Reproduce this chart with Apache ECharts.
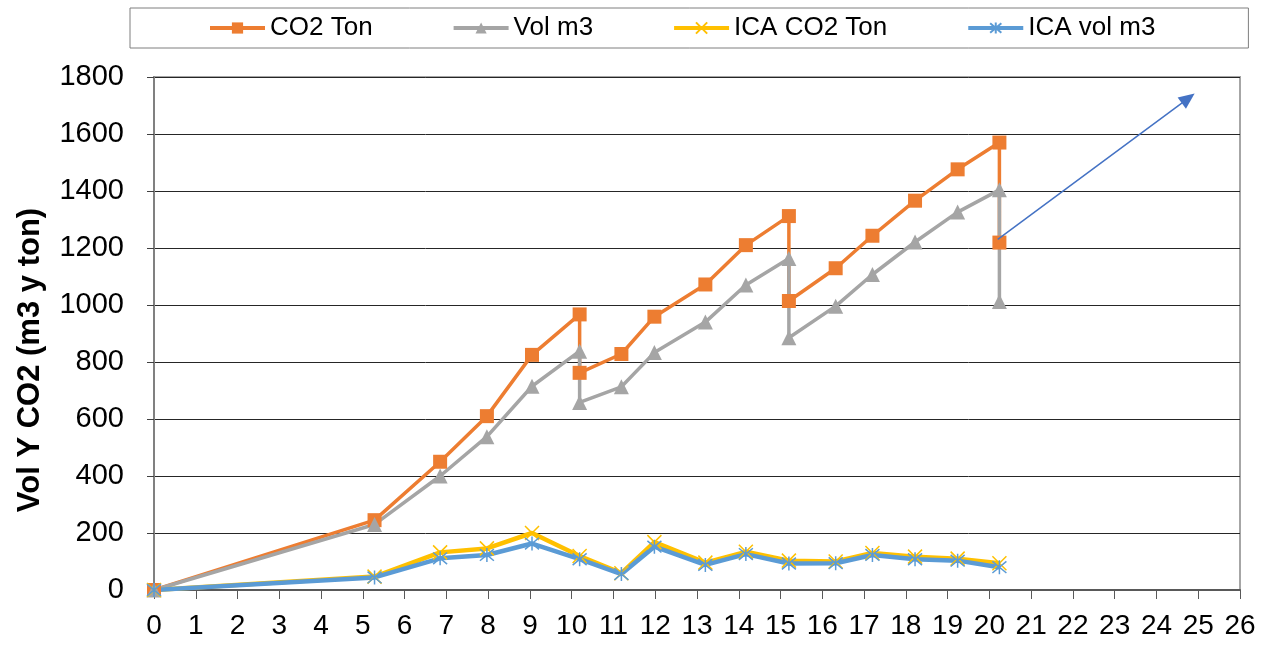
<!DOCTYPE html>
<html>
<head>
<meta charset="utf-8">
<title>Vol Y CO2</title>
<script src="https://cdn.jsdelivr.net/npm/echarts@6/dist/echarts.min.js"></script>
<style>
  html, body { margin: 0; padding: 0; background: #fff; }
  #chart { width: 1268px; height: 646px; }
</style>
</head>
<body>
<div id="chart"></div>
<script>
// x positions (days) for the cumulative series; repeated x = vertical drop
const days = [0, 5.28, 6.85, 7.97, 9.05, 10.19, 10.19, 11.19, 11.98, 13.2, 14.17, 15.2, 15.2, 16.32, 17.2, 18.22, 19.24, 20.24, 20.24];
const co2Ton = [0, 245, 450, 610, 825, 967, 762, 828, 959, 1072, 1210, 1312, 1014, 1129, 1243, 1366, 1476, 1570, 1219];
const volM3 = [0, 230, 400, 538, 715, 838, 658, 713, 833, 940, 1070, 1163, 885, 996, 1107, 1221, 1326, 1404, 1012];

// ICA series, one value per day
const icaDays = [0, 5.28, 6.85, 7.97, 9.05, 10.19, 11.19, 11.98, 13.2, 14.17, 15.2, 16.32, 17.2, 18.22, 19.24, 20.24];
const icaCo2Ton = [0, 47, 132, 146, 200, 119, 59, 168, 96, 134, 103, 100, 130, 117, 110, 94];
const icaVolM3 = [0, 44, 111, 123, 163, 108, 56, 152, 88, 126, 93, 94, 123, 108, 103, 80];

// trend arrow (data coordinates)
const arrowStart = [20.2, 1230];
const arrowEnd = [24.76, 1725];

const seriesNames = ["CO2 Ton", "Vol m3", "ICA CO2 Ton", "ICA vol m3"];
const yName = "Vol Y CO2 (m3 y ton)";

const font = "'Liberation Sans', Arial, sans-serif";
const pair = (xs, ys) => xs.map((x, i) => [x, ys[i]]);

const crossPath = "path://M0,0L10,10M10,0L0,10";
const starPath = "path://M0,0L10,10M10,0L0,10M5,-1L5,11";

const chart = echarts.init(document.getElementById("chart"));

const option = {
  animation: false,
  textStyle: { fontFamily: font },
  legend: {
    data: seriesNames,
    left: 130,
    top: 8,
    padding: [7, 93, 7, 78],
    borderColor: "#7f7f7f",
    borderWidth: 1,
    itemWidth: 55,
    itemHeight: 14,
    itemGap: 79,
    lineStyle: { width: 4 },
    textStyle: { fontSize: 26, color: "#000", fontFamily: font },
  },
  grid: {
    left: 154,
    right: 28,
    top: 77,
    bottom: 56,
    show: true,
    borderColor: "#a6a6a6",
    borderWidth: 2,
  },
  graphic: [
    {
      type: "text",
      x: 30,
      y: 360,
      rotation: Math.PI / 2,
      style: {
        text: yName,
        align: "center",
        verticalAlign: "middle",
        font: "bold 31px " + font,
        fill: "#000",
      },
    },
  ],
  xAxis: {
    type: "value",
    min: 0,
    max: 26,
    interval: 1,
    axisLine: { show: true, lineStyle: { color: "#595959", width: 2 } },
    axisTick: { show: true, length: 9, lineStyle: { color: "#595959", width: 1 } },
    axisLabel: { fontSize: 28, color: "#000", margin: 22, fontFamily: font },
    splitLine: { show: false },
  },
  yAxis: {
    type: "value",
    min: 0,
    max: 1800,
    interval: 200,
    axisLine: { show: true, lineStyle: { color: "#808080", width: 2 } },
    axisTick: { show: true, length: 7, lineStyle: { color: "#404040", width: 1 } },
    axisLabel: {
      fontSize: 29,
      color: "#000",
      margin: 30,
      fontFamily: font,
      formatter: (v) => String(v),
    },
    splitLine: { show: true, lineStyle: { color: "#262626", width: 1 } },
  },
  series: [
    {
      name: seriesNames[0],
      type: "line",
      data: pair(days, co2Ton),
      symbol: "rect",
      symbolSize: 14,
      lineStyle: { color: "#ED7D31", width: 3.5 },
      itemStyle: { color: "#ED7D31" },
      markLine: {
        silent: true,
        symbol: ["none", "triangle"],
        symbolSize: [14, 16],
        label: { show: false },
        lineStyle: { color: "#4472C4", width: 1.5, type: "solid" },
        data: [[{ coord: arrowStart }, { coord: arrowEnd }]],
      },
    },
    {
      name: seriesNames[1],
      type: "line",
      data: pair(days, volM3),
      symbol: "triangle",
      symbolSize: 15,
      lineStyle: { color: "#A5A5A5", width: 3.5 },
      itemStyle: { color: "#A5A5A5" },
    },
    {
      name: seriesNames[2],
      type: "line",
      data: pair(icaDays, icaCo2Ton),
      symbol: crossPath,
      symbolSize: 14,
      lineStyle: { color: "#FFC000", width: 4.5 },
      itemStyle: { color: "#FFC000", borderColor: "#FFC000", borderWidth: 1.5 },
    },
    {
      name: seriesNames[3],
      type: "line",
      data: pair(icaDays, icaVolM3),
      symbol: starPath,
      symbolSize: 14,
      lineStyle: { color: "#5B9BD5", width: 4.5 },
      itemStyle: { color: "#5B9BD5", borderColor: "#5B9BD5", borderWidth: 1.5 },
    },
  ],
};

chart.setOption(option);
</script>
</body>
</html>
